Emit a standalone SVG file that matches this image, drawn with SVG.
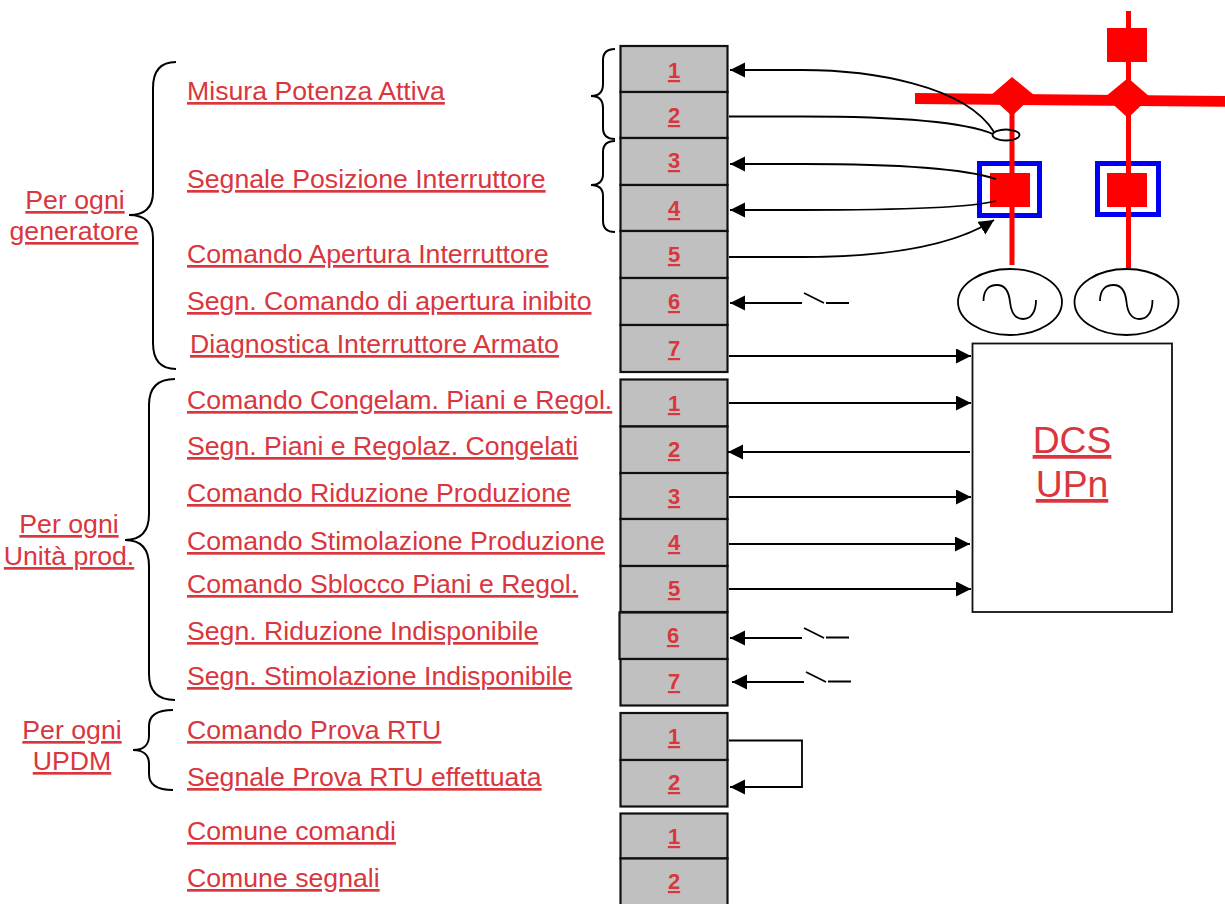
<svg xmlns="http://www.w3.org/2000/svg" width="1225" height="904" viewBox="0 0 1225 904">
<style>
text{font-family:"Liberation Sans",Arial,sans-serif;fill:#d9363e;text-decoration:underline}
.l{font-size:26.67px}
.m{font-size:26.67px;text-anchor:middle}
.n{font-size:22px;font-weight:bold;text-anchor:middle}
.d{font-size:37.3px;text-anchor:middle}
.b{fill:#c0c0c0;stroke:#111;stroke-width:2.2}
.c{fill:none;stroke:#000;stroke-width:1.8}
.a{marker-end:url(#h)}
.r{fill:#f00;stroke:none}
.v{stroke:#f00;stroke-width:5;fill:none}
.s{fill:none;stroke:#0000f5;stroke-width:5}
.o{fill:#fff;stroke:#000;stroke-width:1.8}
.p{fill:none;stroke:#000;stroke-width:2}
</style>
<defs><marker id="h" markerUnits="userSpaceOnUse" markerWidth="16" markerHeight="16" refX="15" refY="7.5" orient="auto"><path d="M0 0L15 7.5L0 15Z" fill="#000"/></marker></defs>
<g id="power">
<polygon class="r" points="915,93 1225,96 1225,106.700 915,104"/>
<polygon class="r" points="1012,77 1034,95 1012,116 990,96"/>
<polygon class="r" points="1128,78 1150,97 1128,118 1105,97"/>
<rect class="s" x="979.500" y="163.500" width="60" height="52"/>
<rect class="s" x="1097.500" y="163.500" width="61" height="51"/>
<path class="v" d="M1012 110V265M1128.500 11V268"/>
<rect class="r" x="1107" y="28" width="40" height="34"/>
<rect class="r" x="990" y="173" width="40" height="34"/>
<rect class="r" x="1107" y="173" width="40" height="34"/>
</g>
<g id="gen1"><ellipse class="o" cx="1010" cy="302" rx="52" ry="33"/><path class="c" d="M983.500 301C983.500 290 989 285 997 285C1005 285 1009 292 1010 302C1011 312 1015 319 1023 319C1031 319 1036 312 1036 300"/></g>
<g id="gen2"><ellipse class="o" cx="1126.500" cy="302" rx="52" ry="33"/><path class="c" d="M1100 301C1100 290 1105.500 285 1113.500 285C1121.500 285 1125.500 292 1126.500 302C1127.500 312 1131.500 319 1139.500 319C1147.500 319 1152.500 312 1152.500 300"/></g>
<g id="dcs"><rect x="972.500" y="343.500" width="199.500" height="268.500" fill="#fff" stroke="#111" stroke-width="1.800"/><text class="d" x="1072" y="453">DCS</text><text class="d" x="1072" y="497">UPn</text></g>
<g id="terminals-a">
<g id="a1"><rect class="b" x="620.500" y="46" width="107" height="46"/><text class="n" x="674" y="78">1</text></g>
<g id="a2"><rect class="b" x="620.500" y="92" width="107" height="46"/><text class="n" x="674" y="123">2</text></g>
<g id="a3"><rect class="b" x="620.500" y="138" width="107" height="47"/><text class="n" x="674" y="168">3</text></g>
<g id="a4"><rect class="b" x="620.500" y="185" width="107" height="46"/><text class="n" x="674" y="216">4</text></g>
<g id="a5"><rect class="b" x="620.500" y="231" width="107" height="47"/><text class="n" x="674" y="262">5</text></g>
<g id="a6"><rect class="b" x="620.500" y="278" width="107" height="47"/><text class="n" x="674" y="309">6</text></g>
<g id="a7"><rect class="b" x="620.500" y="325" width="107" height="47"/><text class="n" x="674" y="356">7</text></g>
</g>
<g id="terminals-b">
<g id="b1"><rect class="b" x="620.500" y="379.500" width="107" height="47"/><text class="n" x="674" y="411">1</text></g>
<g id="b2"><rect class="b" x="620.500" y="426.500" width="107" height="47"/><text class="n" x="674" y="457">2</text></g>
<g id="b3"><rect class="b" x="620.500" y="473" width="107" height="46"/><text class="n" x="674" y="504">3</text></g>
<g id="b4"><rect class="b" x="620.500" y="519" width="107" height="47"/><text class="n" x="674" y="550">4</text></g>
<g id="b5"><rect class="b" x="620.500" y="566" width="107" height="46"/><text class="n" x="674" y="596">5</text></g>
<g id="b6"><rect class="b" x="619.500" y="612.500" width="108" height="46.500"/><text class="n" x="673" y="643">6</text></g>
<g id="b7"><rect class="b" x="620.500" y="659" width="107" height="46.500"/><text class="n" x="674" y="689">7</text></g>
</g>
<g id="terminals-c">
<g id="c1"><rect class="b" x="620.500" y="713" width="107" height="47"/><text class="n" x="674" y="744">1</text></g>
<g id="c2"><rect class="b" x="620.500" y="760" width="107" height="46.500"/><text class="n" x="674" y="790">2</text></g>
</g>
<g id="terminals-d">
<g id="d1"><rect class="b" x="620.500" y="813.500" width="107" height="45"/><text class="n" x="674" y="844">1</text></g>
<g id="d2"><rect class="b" x="620.500" y="858.500" width="107" height="50"/><text class="n" x="674" y="889">2</text></g>
</g>
<g id="labels">
<text class="l" x="187" y="100">Misura Potenza Attiva</text>
<text class="l" x="187" y="188">Segnale Posizione Interruttore</text>
<text class="l" x="187" y="263">Comando Apertura Interruttore</text>
<text class="l" x="187" y="310">Segn. Comando di apertura inibito</text>
<text class="l" x="190" y="353">Diagnostica Interruttore Armato</text>
<text class="l" x="187" y="409">Comando Congelam. Piani e Regol.</text>
<text class="l" x="187" y="455">Segn. Piani e Regolaz. Congelati</text>
<text class="l" x="187" y="502">Comando Riduzione Produzione</text>
<text class="l" x="187" y="550">Comando Stimolazione Produzione</text>
<text class="l" x="187" y="593">Comando Sblocco Piani e Regol.</text>
<text class="l" x="187" y="640">Segn. Riduzione Indisponibile</text>
<text class="l" x="187" y="685">Segn. Stimolazione Indisponibile</text>
<text class="l" x="187" y="739">Comando Prova RTU</text>
<text class="l" x="187" y="786">Segnale Prova RTU effettuata</text>
<text class="l" x="187" y="840">Comune comandi</text>
<text class="l" x="187" y="887">Comune segnali</text>
<text class="m" x="75" y="209">Per ogni</text>
<text class="m" x="74" y="240">generatore</text>
<text class="m" x="69" y="533">Per ogni</text>
<text class="m" x="69" y="565">Unità prod.</text>
<text class="m" x="72" y="739">Per ogni</text>
<text class="m" x="72" y="770">UPDM</text>
</g>
<g id="braces">
<path class="p" d="M176 62C160 62 153 72 153 88V192C153 207 145 215 129 215C145 215 153 223 153 238V343C153 359 160 369 176 369"/>
<path class="p" d="M175 379C157 379 149 389 149 405V514C149 531 141 540 125 540C141 540 149 549 149 566V674C149 690 157 700 175 700"/>
<path class="p" d="M173 710C157 710 149 716 149 726V736C149 745 143 750 133 750C143 750 149 755 149 764V774C149 784 157 790 173 790"/>
<path class="p" d="M615 49C607 49 603 52 603 60V84C603 92 599 96 591 96C599 96 603 100 603 108V128C603 136 607 139 615 139"/>
<path class="p" d="M615 141C607 141 603 145 603 152V174C603 181 599 185 591 185C599 185 603 189 603 196V221C603 228 607 232 615 232"/>
</g>
<g id="connectors">
<path class="c a" d="M802 70H730"/>
<path class="c" d="M802 70C870 70 965 85 994 132"/>
<path class="c" d="M729 116.500H802C880 116.500 960 120 993 134"/>
<ellipse class="c" cx="1006" cy="135" rx="13.500" ry="5.500"/>
<path class="c a" d="M802 164H730"/>
<path class="c" d="M802 164C880 164 960 167 996 179"/>
<path class="c a" d="M802 210H730"/>
<path class="c" d="M802 210C880 210 970 208 996 201"/>
<path class="c a" d="M729 257H802C880 257 950 248 994 220"/>
<path class="c a" d="M802 303H730"/>
<path class="c" d="M804 293L824 303M826 303H849"/>
<path class="c a" d="M729 356H971"/>
<path class="c a" d="M729 403H971"/>
<path class="c a" d="M970 452H728"/>
<path class="c a" d="M729 497H971"/>
<path class="c a" d="M729 544H970"/>
<path class="c a" d="M729 589H971"/>
<path class="c a" d="M802 638H730"/>
<path class="c" d="M804 628L824 638M826 637.500H849"/>
<path class="c a" d="M804 682H732"/>
<path class="c" d="M806 672L826 682M828 681.500H851"/>
<path class="c a" d="M729 740.500H802V787H730"/>
</g>
</svg>
